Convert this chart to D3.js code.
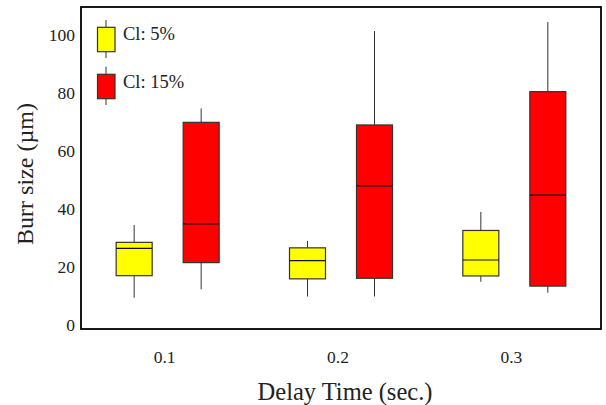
<!DOCTYPE html>
<html><head><meta charset="utf-8">
<script src="https://cdn.jsdelivr.net/npm/d3@7"></script>
<style>body{margin:0;background:#fff}svg{display:block}text{font-family:"Liberation Serif","Times New Roman",serif}</style>
</head><body><svg id="c" width="606" height="405"></svg>
<script>
const categories = ["0.1","0.2","0.3"];
const seriesNames = ["Cl: 5%","Cl: 15%"];
const seriesColors = ["#ffff00","#ff0000"];
// [whiskerLow, q1, median, q3, whiskerHigh]
const cl5  = [[9.4,17.0,26.4,28.5,34.5],[9.8,15.9,22.2,26.6,29.0],[14.9,16.9,22.4,32.6,39.0]];
const cl15 = [[12.3,21.5,34.9,69.9,74.7],[9.8,16.1,48.0,69.0,101.4],[11.1,13.4,44.8,80.5,104.5]];
const yTicks = [0,20,40,60,80,100];

const svg = d3.select("#c");
const L=81,R=601,T=7,B=329;
const x0 = d3.scaleBand().domain(categories).range([L,R]);
const x1 = d3.scalePoint().domain(seriesNames).range([-33.5,33.5]);
const y = d3.scaleLinear().domain([-1.4,109.7]).range([B,T]);
const bw = 36;

const data = [cl5, cl15];
seriesNames.forEach((s,si)=>{
  const g = svg.append("g");
  categories.forEach((c,ci)=>{
    const v = data[si][ci];
    const cx = x0(c)+x0.bandwidth()/2+x1(s);
    g.append("line").attr("x1",cx).attr("x2",cx).attr("y1",y(v[0])).attr("y2",y(v[1])).attr("stroke","#333").attr("stroke-width",1);
    g.append("line").attr("x1",cx).attr("x2",cx).attr("y1",y(v[3])).attr("y2",y(v[4])).attr("stroke","#333").attr("stroke-width",1);
    g.append("rect").attr("x",cx-bw/2).attr("width",bw).attr("y",y(v[3])).attr("height",y(v[1])-y(v[3]))
      .attr("fill",seriesColors[si]).attr("stroke","#333").attr("stroke-width",1.2);
    g.append("line").attr("x1",cx-bw/2).attr("x2",cx+bw/2).attr("y1",y(v[2])).attr("y2",y(v[2])).attr("stroke","#111").attr("stroke-width",1.2);
  });
});

// frame
svg.append("rect").attr("x",L).attr("y",T).attr("width",R-L).attr("height",B-T).attr("fill","none").attr("stroke","#000").attr("stroke-width",1.8);

const ya = svg.append("g").attr("transform",`translate(${L},0)`).call(d3.axisLeft(y).tickValues(yTicks).tickSize(0).tickPadding(6));
ya.select(".domain").remove();
ya.selectAll("text").attr("font-size",17.5).attr("fill","#222").attr("font-family","Liberation Serif");
const xa = svg.append("g").attr("transform",`translate(0,${B})`).call(d3.axisBottom(x0).tickSize(0).tickPadding(22));
xa.select(".domain").remove();
xa.selectAll("text").attr("font-size",17.5).attr("fill","#222").attr("font-family","Liberation Serif").attr("dx",-3);

svg.append("text").attr("x",345).attr("y",400).attr("text-anchor","middle").attr("font-size",24.5).attr("fill","#222").text("Delay Time (sec.)");
svg.append("text").attr("transform","translate(33,174) rotate(-90)").attr("text-anchor","middle").attr("font-size",24).attr("fill","#222").text("Burr size (µm)");

// legend
const leg = [[20,27.3,51.7,58,33.3],[66.7,74.3,98.7,105,81.7]];
seriesNames.forEach((s,i)=>{
  const [w0,b0,b1,w1,ty] = leg[i];
  const lx = 106;
  svg.append("line").attr("x1",lx).attr("x2",lx).attr("y1",w0).attr("y2",w1).attr("stroke","#333");
  svg.append("rect").attr("x",97.5).attr("y",b0).attr("width",17.5).attr("height",b1-b0).attr("fill",seriesColors[i]).attr("stroke","#333").attr("stroke-width",1.2);
  svg.append("text").attr("x",123).attr("y",ty).attr("dy","0.35em").attr("font-size",18.5).attr("fill","#222").text(s);
});
</script></body></html>
